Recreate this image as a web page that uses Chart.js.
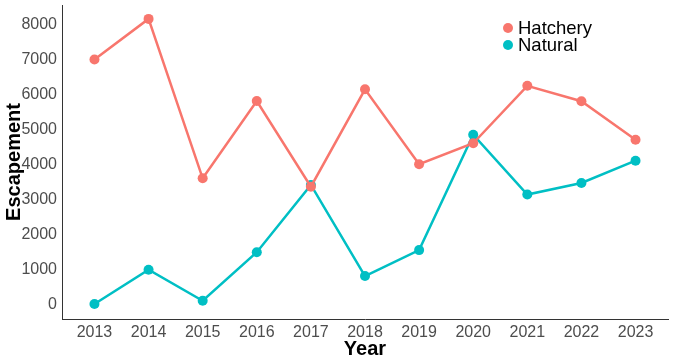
<!DOCTYPE html>
<html>
<head>
<meta charset="utf-8">
<script src="https://cdn.jsdelivr.net/npm/chart.js@4"></script>
<style>
  html, body { margin: 0; padding: 0; background: #fff; }
  #wrap { position: relative; width: 673px; height: 361px; }
  canvas { display: block; }
  #legend { position: absolute; left: 503px; top: 19px; font-family: "Liberation Sans", Arial, sans-serif; font-size: 18.5px; color: #000; line-height: 17px; }
  #legend div { display: flex; align-items: center; height: 17px; }
  #legend span.dot { display: inline-block; width: 10px; height: 10px; border-radius: 50%; margin-right: 5px; }
</style>
</head>
<body>
<div id="wrap">
  <canvas id="c" width="673" height="361"></canvas>
  <div id="legend">
    <div><span class="dot" style="background:#F8766D"></span>Hatchery</div>
    <div><span class="dot" style="background:#00BFC4"></span>Natural</div>
  </div>
</div>
<script>
const years = [2013, 2014, 2015, 2016, 2017, 2018, 2019, 2020, 2021, 2022, 2023];
const hatchery = [7000, 8160, 3610, 5815, 3370, 6150, 4010, 4610, 6250, 5810, 4710];
const natural = [20, 1000, 114, 1500, 3420, 820, 1560, 4855, 3145, 3475, 4112];
const yTicks = [0, 1000, 2000, 3000, 4000, 5000, 6000, 7000, 8000];

const toXY = arr => years.map((y, i) => ({ x: y, y: arr[i] }));
const font = "'Liberation Sans', Arial, sans-serif";

new Chart(document.getElementById('c'), {
  type: 'line',
  data: {
    datasets: [
      { label: 'Hatchery', data: toXY(hatchery), borderColor: '#F8766D', backgroundColor: '#F8766D',
        borderWidth: 2.5, pointRadius: 5, pointHoverRadius: 5, pointBorderWidth: 0, tension: 0 },
      { label: 'Natural', data: toXY(natural), borderColor: '#00BFC4', backgroundColor: '#00BFC4',
        borderWidth: 2.5, pointRadius: 5, pointHoverRadius: 5, pointBorderWidth: 0, tension: 0 }
    ]
  },
  options: {
    responsive: false,
    animation: false,
    devicePixelRatio: 1,
    layout: { padding: { left: 2, right: 5, top: 5, bottom: 0 } },
    plugins: { legend: { display: false }, tooltip: { enabled: false } },
    scales: {
      x: {
        type: 'linear',
        min: years[0] - 0.6,
        max: years[years.length - 1] + 0.6,
        afterBuildTicks: s => { s.ticks = years.map(v => ({ value: v })); },
        afterFit: s => { s.height = 42; s.paddingLeft = 0; s.paddingRight = 0; },
        grid: { display: false, drawTicks: true, tickLength: 4, tickColor: '#333' },
        border: { display: true, color: '#333', width: 1 },
        ticks: { color: '#4D4D4D', font: { family: font, size: 16 }, padding: 0, maxRotation: 0, autoSkip: false,
          callback: v => String(v) },
        title: { display: true, text: 'Year', color: '#000', font: { family: font, size: 20, weight: 'bold' }, padding: { top: -4, bottom: 0 } }
      },
      y: {
        type: 'linear',
        min: -407,
        max: 8557,
        afterBuildTicks: s => { s.ticks = yTicks.map(v => ({ value: v })); },
        afterFit: s => { s.width = 60; s.paddingTop = 0; s.paddingBottom = 0; },
        grid: { display: false, drawTicks: true, tickLength: 4, tickColor: '#333' },
        border: { display: true, color: '#333', width: 1 },
        ticks: { color: '#4D4D4D', font: { family: font, size: 16 }, padding: 1, callback: v => String(v) },
        title: { display: true, text: 'Escapement', color: '#000', font: { family: font, size: 20, weight: 'bold' }, padding: { top: 0, bottom: 0 } }
      }
    }
  }
});
</script>
</body>
</html>
